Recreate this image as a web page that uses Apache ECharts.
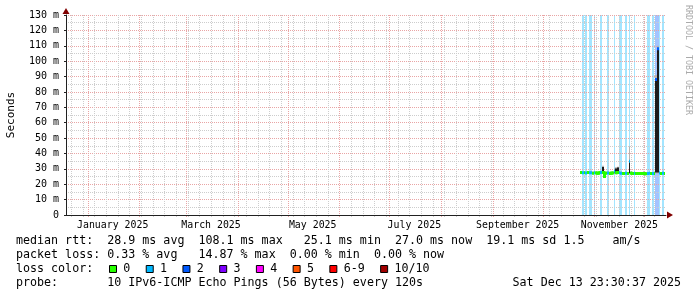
<!DOCTYPE html>
<html><head><meta charset="utf-8">
<script src="https://cdn.jsdelivr.net/npm/echarts@6/dist/echarts.min.js"></script>
<style>html,body{margin:0;padding:0;background:#fff}#c{width:697px;height:297px}</style>
</head><body><div id="c"></div>
<script>
// ---------- data ----------
const END_TIME = '2025-12-13T23:30:37Z';
const SPAN_DAYS = 360;
const Y_MAX = 130;
const yTickLabels = ['0','10 m','20 m','30 m','40 m','50 m','60 m','70 m','80 m','90 m','100 m','110 m','120 m','130 m'];
const monthStarts = ['2025-01-01','2025-02-01','2025-03-01','2025-04-01','2025-05-01','2025-06-01','2025-07-01','2025-08-01','2025-09-01','2025-10-01','2025-11-01','2025-12-01'];
const xLabelDates = ['2025-01-16','2025-03-16','2025-05-16','2025-07-16','2025-09-16','2025-11-16'];
const xLabels = ['January 2025','March 2025','May 2025','July 2025','September 2025','November 2025'];
const firstWeek = '2024-12-22';
const firstSample = '2025-10-24';

const median = [27.6,27.4,27.5,27.3,27.6,27.4,27.5,27.2,27.4,27.3,
  27.1,27.4,27.6,27.6,25.1,27.2,27.3,27.0,27.1,27.3,
  28.4,27.5,27.7,27.5,27.2,27.0,26.9,27.1,27.0,35.0,
  27.2,27.0,27.1,26.9,27.0,26.9,27.0,26.9,27.0,26.8,
  27.0,27.1,26.9,27.0,26.9,88.0,108.1,27.3,26.9,27.1,27.0];
const loss = [0,1,0,1,0,1,1,0,1,0,
  0,0,1,0,0,0,1,0,0,0,
  1,0,0,1,1,0,0,1,0,1,
  0,0,1,0,0,0,0,0,0,0,
  1,1,0,1,0,2,2,1,0,1,0];
const smokeMin = [26.9,26.7,26.8,26.6,26.9,26.7,26.8,26.5,26.7,26.6,
  26.4,26.7,26.9,26.8,24.6,26.5,26.6,26.3,26.4,26.6,
  26.9,27.0,27.0,26.8,26.5,26.3,26.2,26.4,26.3,26.8,
  26.5,26.3,26.4,26.2,26.3,26.2,26.3,26.2,26.3,26.1,
  26.3,26.4,26.2,26.3,26.2,27.0,27.0,26.6,26.2,26.4,26.3];
const smokeMax = [28.6,28.4,28.5,28.3,28.6,28.4,28.5,28.2,28.4,28.3,
  28.1,28.4,28.6,32.0,27.6,28.2,28.3,28.0,28.1,28.3,
  30.2,31.0,31.4,28.5,28.2,28.0,27.9,28.1,28.0,44.5,
  28.2,28.0,28.1,27.9,28.0,27.9,28.0,27.9,28.0,27.8,
  28.0,28.1,27.9,28.0,27.9,91.0,110.0,28.3,27.9,28.1,28.0];
const smokeInnerLo = [27.3,27.1,27.2,27.0,27.3,27.1,27.2,26.9,27.1,27.0,
  26.8,27.1,27.3,27.3,24.9,26.9,27.0,26.7,26.8,27.0,
  27.2,27.4,27.5,27.2,26.9,26.7,26.6,26.8,26.7,27.2,
  26.9,26.7,26.8,26.6,26.7,26.6,26.7,26.6,26.7,26.5,
  26.7,26.8,26.6,26.7,26.6,27.6,27.6,27.0,26.6,26.8,26.7];
const smokeInnerHi = [28.0,27.8,27.9,27.7,28.0,27.8,27.9,27.6,27.8,27.7,
  27.5,27.8,28.0,31.2,26.8,27.6,27.7,27.4,27.5,27.7,
  29.0,30.2,30.8,27.9,27.6,27.4,27.3,27.5,27.4,35.0,
  27.6,27.4,27.5,27.3,27.4,27.3,27.4,27.3,27.4,27.2,
  27.4,27.5,27.3,27.4,27.3,88.5,108.6,27.7,27.3,27.5,27.4];

const lossLabels = ['0','1','2','3','4','5','6-9','10/10'];
const lossColors = ['#26ff00','#00b8ff','#0059ff','#7e00ff','#ff00ff','#ff5500','#ff0000','#a10000'];
const lossBg = ['rgba(0,0,0,0)','rgba(0,184,255,0.36)','rgba(0,89,255,0.36)','rgba(126,0,255,0.36)','rgba(255,0,255,0.36)','rgba(255,85,0,0.36)','rgba(255,0,0,0.36)','rgba(161,0,0,0.36)'];
const legendLines = [
  'median rtt:  28.9 ms avg  108.1 ms max   25.1 ms min  27.0 ms now  19.1 ms sd 1.5    am/s',
  'packet loss: 0.33 % avg   14.87 % max  0.00 % min  0.00 % now',
  'loss color:',
  'probe:       10 IPv6-ICMP Echo Pings (56 Bytes) every 120s'
];
const stampText = 'Sat Dec 13 23:30:37 2025';
const yName = 'Seconds';
const watermark = 'RRDTOOL / TOBI OETIKER';

// ---------- build ----------
const DAY = 86400000, HALF = DAY / 2;
const MONO = '"DejaVu Sans Mono", monospace';
const END = Date.parse(END_TIME);
const START = END - SPAN_DAYS * DAY;
const ts = s => Date.parse(s + 'T00:00:00Z');
const monthTicks = monthStarts.map(ts);
const labelTicks = xLabelDates.map(ts);
const weekTicks = [];
for (let t = ts(firstWeek); t <= END; t += 7 * DAY) weekTicks.push(t);
const gridRows = weekTicks.map(t => [t, 0, 0]).concat(monthTicks.map(t => [t, 0, 1]));
const t0 = ts(firstSample);
const table = median.map((m, i) => [t0 + i * DAY, m, loss[i], smokeMin[i], smokeMax[i], smokeInnerLo[i], smokeInnerHi[i],
  i > 0 ? median[i - 1] : m, i > 0 ? loss[i - 1] : -1]);

const GRID_GREY = '#cdcdcd', GRID_PINK = '#e9a5a5', AXIS = '#212121', ARROW = '#800000';

function colX(api, t) {
  return [Math.round(api.coord([t - HALF, 0])[0]), Math.round(api.coord([t + HALF, 0])[0])];
}
function gridItem(params, api) {
  const t = api.value(0), kind = api.value(2);
  const x = Math.round(api.coord([t, 0])[0]) + 0.5;
  const yTop = api.coord([t, Y_MAX])[1], yBot = api.coord([t, 0])[1];
  const c = kind ? GRID_PINK : GRID_GREY;
  return {type: 'group', children: [
    {type: 'line', shape: {x1: x, y1: yTop, x2: x, y2: yBot}, style: {stroke: c, lineWidth: 1, lineDash: [1, 1]}},
    {type: 'line', shape: {x1: x, y1: yBot, x2: x, y2: yBot + 2}, style: {stroke: c, lineWidth: 1}}
  ]};
}
function stripeItem(params, api) {
  const t = api.value(0), l = api.value(2);
  const [xl, xr] = colX(api, t);
  const top = api.coord([t, Y_MAX])[1], bot = api.coord([t, 0])[1];
  return {type: 'rect', shape: {x: xl, y: top, width: xr - xl, height: bot - top}, style: {fill: lossBg[l]}};
}
function smokeItem(params, api) {
  const t = api.value(0);
  const [xl, xr] = colX(api, t);
  const o1 = api.coord([t, api.value(3)])[1], o2 = api.coord([t, api.value(4)])[1];
  const i1 = api.coord([t, api.value(5)])[1], i2 = api.coord([t, api.value(6)])[1];
  return {type: 'group', children: [
    {type: 'rect', shape: {x: xl, y: o2, width: xr - xl, height: o1 - o2}, style: {fill: '#b4b4b4'}},
    {type: 'rect', shape: {x: xl, y: i2, width: xr - xl, height: i1 - i2}, style: {fill: '#1c1c1c'}}
  ]};
}
function medianItem(params, api) {
  const t = api.value(0), m = api.value(1), l = api.value(2), pm = api.value(7), pl = api.value(8);
  const [xl, xr] = colX(api, t);
  const y = api.coord([t, m])[1];
  const kids = [{type: 'line', shape: {x1: xl, y1: y, x2: xr, y2: y}, style: {stroke: lossColors[l], lineWidth: 3}}];
  if (l === 0 && pl === 0) {
    const py = api.coord([t, pm])[1];
    const up = py < y ? -1.5 : 1.5;
    kids.push({type: 'line', shape: {x1: xl, y1: py + up, x2: xl, y2: y - up}, style: {stroke: lossColors[0], lineWidth: 2}});
  }
  return {type: 'group', children: kids};
}

// legend graphics
const rowY = [241, 255, 269, 283];
const graphics = [];
const txt = (x, y, s, align) => ({type: 'text', x: x, y: y,
  style: {text: s, fill: '#000', fontFamily: MONO, fontSize: 11.67, align: align, verticalAlign: 'middle'}});
legendLines.forEach((s, k) => graphics.push(txt(16, rowY[k], s, 'left')));
graphics.push(txt(681, rowY[3], stampText, 'right'));
let bx = 109;
const CW = 7.025;
lossLabels.forEach((lab, k) => {
  graphics.push({type: 'rect', shape: {x: bx + 0.5, y: 265.5, width: 7, height: 7}, style: {fill: lossColors[k], stroke: '#000', lineWidth: 1}});
  const lx = bx + 14.3;
  graphics.push(txt(lx, rowY[2], lab, 'left'));
  bx = lx + lab.length * CW + 15.4;
});
graphics.push({type: 'text', x: 688, y: 5, rotation: -Math.PI / 2,
  style: {text: watermark, fill: '#aaaaaa', fontFamily: MONO, fontSize: 8.3, align: 'left', verticalAlign: 'middle'}});

const baseX = {type: 'value', gridIndex: 0, position: 'bottom', min: START, max: END, z: 1,
  axisLabel: {show: false}, axisLine: {show: false, onZero: false}, axisTick: {show: false}, splitLine: {show: false}};

const option = {
  animation: false,
  backgroundColor: '#fff',
  grid: {left: 66, top: 15, width: 600, height: 200, containLabel: false, outerBoundsMode: 'none'},
  xAxis: [
    Object.assign({}, baseX, {
      axisLine: {show: true, onZero: false, lineStyle: {color: AXIS, width: 1}}
    }),
    Object.assign({}, baseX, {
      axisLine: {show: true, onZero: false, symbol: ['none', 'triangle'], symbolSize: [7, 6], symbolOffset: [0, 4],
        lineStyle: {color: ARROW, width: 0}},
      axisLabel: {show: true, customValues: labelTicks, margin: 5, color: '#000', fontFamily: MONO, fontSize: 9.9,
        hideOverlap: false, formatter: v => { const k = labelTicks.indexOf(+v); return k >= 0 ? xLabels[k] : ''; }}
    })
  ],
  yAxis: [
    {type: 'value', min: 0, max: Y_MAX, interval: 10, position: 'left', z: 1,
      name: yName, nameLocation: 'middle', nameGap: 49, nameRotate: 90,
      nameTextStyle: {fontFamily: MONO, fontSize: 11, color: '#000'},
      axisLine: {show: true, onZero: false, lineStyle: {color: AXIS, width: 1}},
      axisTick: {show: true, length: 2, lineStyle: {color: AXIS}},
      axisLabel: {margin: 7, color: '#000', fontFamily: MONO, fontSize: 10,
        formatter: (v) => yTickLabels[Math.round(v / 10)]},
      splitLine: {show: true, lineStyle: {color: GRID_PINK, type: [1, 1], width: 1}},
      minorTick: {show: false, splitNumber: 2},
      minorSplitLine: {show: true, lineStyle: {color: GRID_GREY, type: [1, 1], width: 1}}
    },
    {type: 'value', min: 0, max: Y_MAX, position: 'left', offset: 0, z: 1,
      axisLine: {show: true, onZero: false, symbol: ['none', 'triangle'], symbolSize: [7, 6], symbolOffset: [0, 4],
        lineStyle: {color: ARROW, width: 0}},
      axisTick: {show: false}, axisLabel: {show: false}, splitLine: {show: false}}
  ],
  graphic: graphics,
  series: [
    {type: 'custom', name: 'loss', z: 0, xAxisIndex: 0, yAxisIndex: 0, renderItem: stripeItem,
      encode: {x: 0, y: 1}, data: table.filter(r => r[2] > 0), silent: true},
    {type: 'custom', name: 'vgrid', z: 1, xAxisIndex: 0, yAxisIndex: 0, renderItem: gridItem,
      encode: {x: 0, y: 1}, data: gridRows, silent: true},
    {type: 'custom', name: 'smoke', z: 2, xAxisIndex: 0, yAxisIndex: 0, renderItem: smokeItem,
      encode: {x: 0, y: 1}, data: table, silent: true},
    {type: 'custom', name: 'median', z: 3, xAxisIndex: 0, yAxisIndex: 0, renderItem: medianItem,
      encode: {x: 0, y: 1}, data: table, silent: true}
  ]
};
const chart = echarts.init(document.getElementById('c'), null, {renderer: 'canvas'});
chart.setOption(option);
</script></body></html>
